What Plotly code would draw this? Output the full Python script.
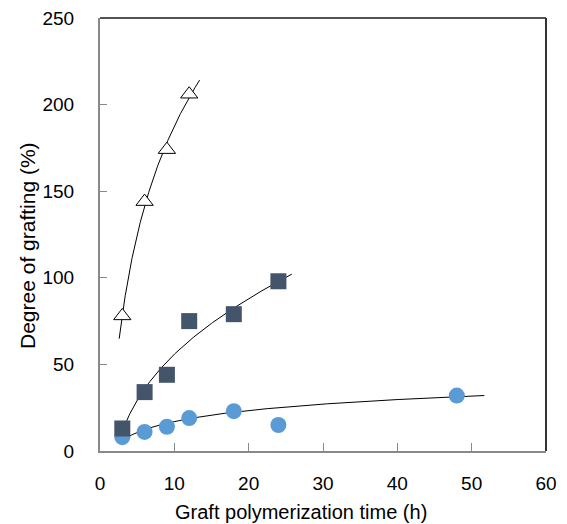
import numpy as np
import plotly.graph_objects as go

# Data
tri_x = [3, 6, 9, 12]
tri_y = [78, 144, 174, 206]
sq_x = [3, 6, 9, 12, 18, 24]
sq_y = [13, 34, 44, 75, 79, 98]
circ_x = [3, 6, 9, 12, 18, 24, 48]
circ_y = [8, 11, 14, 19, 23, 15, 32]

x_ticks = [0, 10, 20, 30, 40, 50, 60]
y_ticks = [0, 50, 100, 150, 200, 250]
x_title = "Graft polymerization time (h)"
y_title = "Degree of grafting (%)"

# Trend lines fitted to the data
def log_fit(x, y, x0, x1):
    a, b = np.polyfit(np.log(x), y, 1)
    xs = np.linspace(x0, x1, 200)
    return xs, a * np.log(xs) + b

def loglin_fit(x, y, x0, x1):
    x = np.asarray(x, float)
    A = np.column_stack([np.log(x), x, np.ones_like(x)])
    c, *_ = np.linalg.lstsq(A, np.asarray(y, float), rcond=None)
    xs = np.linspace(x0, x1, 200)
    return xs, c[0] * np.log(xs) + c[1] * xs + c[2]

tx, ty = log_fit(tri_x, tri_y, 2.58, 13.4)
sx, sy = loglin_fit(sq_x, sq_y, 3.0, 25.8)
cx_fit = [x for x in circ_x if x != 24]
cy_fit = [y for x, y in zip(circ_x, circ_y) if x != 24]
cx, cy = log_fit(cx_fit, cy_fit, 3.0, 51.7)

fig = go.Figure()
line_style = dict(color="black", width=1)
for xs, ys in [(tx, ty), (sx, sy), (cx, cy)]:
    fig.add_trace(go.Scatter(x=xs, y=ys, mode="lines", line=line_style, hoverinfo="skip"))

fig.add_trace(go.Scatter(x=circ_x, y=circ_y, mode="markers",
                         marker=dict(symbol="circle", size=16, color="#5B9BD5",
                                     line=dict(width=0))))
fig.add_trace(go.Scatter(x=sq_x, y=sq_y, mode="markers",
                         marker=dict(symbol="square", size=16, color="#44546A",
                                     line=dict(width=0))))
fig.add_trace(go.Scatter(x=tri_x, y=tri_y, mode="markers",
                         marker=dict(symbol="triangle-up", size=15, color="white",
                                     line=dict(width=1, color="black"))))

fam = "Liberation Sans, Arial, sans-serif"
tick_font = dict(family=fam, size=19, color="black")

fig.update_layout(
    width=567, height=524,
    margin=dict(l=100, r=21, t=18, b=73),
    paper_bgcolor="white", plot_bgcolor="white",
    showlegend=False,
    font=dict(family=fam, size=18, color="black"),
    xaxis=dict(range=[0, 60], tickvals=x_ticks, ticks="inside", ticklen=8,
               tickcolor="#898989", tickwidth=1, showline=True, linecolor="#898989",
               linewidth=2, showgrid=False, zeroline=False, automargin=False,
               ticklabelstandoff=14, tickfont=tick_font),
    yaxis=dict(range=[0, 250], tickvals=y_ticks, ticks="inside", ticklen=7,
               tickcolor="#898989", tickwidth=1, showline=True, linecolor="#898989",
               linewidth=2, showgrid=False, zeroline=False, automargin=False,
               ticklabelstandoff=20, tickfont=tick_font),
)

# axis titles (placed like the reference, off-centre)
fig.add_annotation(text=x_title, xref="paper", yref="paper",
                   x=(301 - 100) / 446, y=(451 - 512) / 433,
                   xanchor="center", yanchor="middle", showarrow=False,
                   font=dict(family=fam, size=20, color="black"))
fig.add_annotation(text=y_title, xref="paper", yref="paper",
                   x=(27 - 100) / 446, y=(451 - 246) / 433, textangle=-90,
                   xanchor="center", yanchor="middle", showarrow=False,
                   font=dict(family=fam, size=21, color="black"))

# top and right frame lines
fig.add_shape(type="line", xref="x domain", yref="y domain", x0=0, x1=1, y0=1, y1=1,
              line=dict(color="#1a1a1a", width=1.5))
fig.add_shape(type="line", xref="x domain", yref="y domain", x0=1, x1=1, y0=0, y1=1,
              line=dict(color="#333333", width=2))

fig.write_html("out.html")
